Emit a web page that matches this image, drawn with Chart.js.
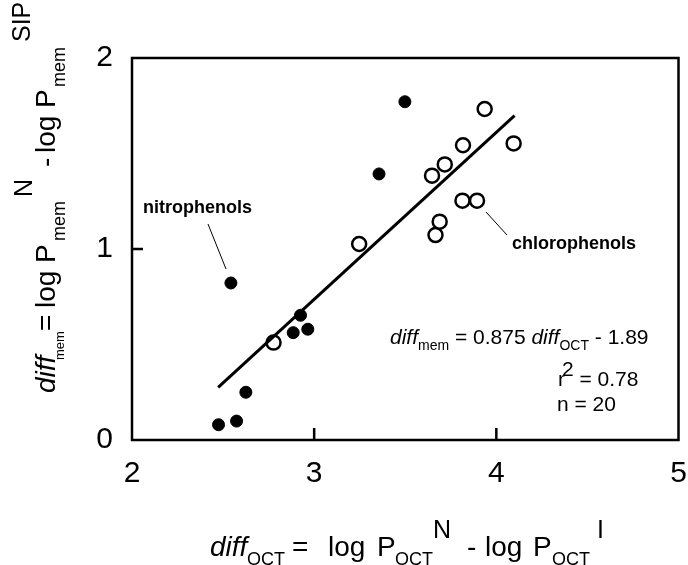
<!DOCTYPE html>
<html>
<head>
<meta charset="utf-8">
<script src="https://cdn.jsdelivr.net/npm/chart.js@4"></script>
<style>
  html, body { margin: 0; padding: 0; background: #fff; }
  #wrap { width: 688px; height: 565px; }
</style>
</head>
<body>
<div id="wrap"><canvas id="chart" width="688" height="565"></canvas></div>
<script>
// nitrophenols (filled)
const nitroX = [2.475, 2.543, 2.574, 2.625, 2.885, 2.925, 2.965, 3.356, 3.498];
const nitroY = [0.080, 0.822, 0.099, 0.250, 0.562, 0.653, 0.580, 1.393, 1.771];
// chlorophenols (open)
const chloroX = [2.777, 3.247, 3.647, 3.666, 3.689, 3.717, 3.814, 3.817, 3.894, 3.936, 4.095];
const chloroY = [0.510, 1.026, 1.384, 1.073, 1.143, 1.443, 1.253, 1.543, 1.253, 1.733, 1.553];
// regression line end points
const fitX = [2.473, 4.100];
const fitY = [0.276, 1.698];

const xTicks = [2, 3, 4, 5];
const yTicks = [0, 1, 2];
const xInnerTicks = [3, 4];
const yInnerTicks = [1];

const FONT = "Arial, 'Liberation Sans', sans-serif";

function toPoints(xs, ys) {
  return xs.map((x, i) => ({ x: x, y: ys[i] }));
}

// write a run of text pieces, each with its own font, offset and baseline shift
function drawRun(ctx, x, y, parts) {
  let cx = x;
  parts.forEach((p) => {
    if (p.at !== undefined) cx = x + p.at;
    ctx.font = p.f;
    ctx.fillText(p.t, cx, y + (p.dy || 0));
    cx += ctx.measureText(p.t).width + (p.gap || 0);
  });
}

// white ring under each marker, so the line looks cut around the dots
const halo = {
  id: "halo",
  beforeDatasetDraw(chart, args) {
    if (args.index === 0) return;
    const ctx = chart.ctx;
    ctx.save();
    ctx.fillStyle = "#fff";
    args.meta.data.forEach((pt) => {
      ctx.beginPath();
      ctx.arc(pt.x, pt.y, 10, 0, Math.PI * 2);
      ctx.fill();
    });
    ctx.restore();
  },
};

const frame = {
  id: "frame",
  afterDraw(chart) {
    const ctx = chart.ctx;
    const a = chart.chartArea;
    const xs = chart.scales.x;
    const ys = chart.scales.y;
    ctx.save();
    ctx.strokeStyle = "#000";
    ctx.lineWidth = 2.5;
    ctx.strokeRect(a.left, a.top, a.right - a.left, a.bottom - a.top);
    ctx.beginPath();
    xInnerTicks.forEach((v) => {
      const px = xs.getPixelForValue(v);
      ctx.moveTo(px, a.bottom);
      ctx.lineTo(px, a.bottom - 12);
    });
    yInnerTicks.forEach((v) => {
      const py = ys.getPixelForValue(v);
      ctx.moveTo(a.left, py);
      ctx.lineTo(a.left + 11, py);
    });
    ctx.stroke();

    // leader lines
    ctx.lineWidth = 1;
    ctx.beginPath();
    ctx.moveTo(208, 224);
    ctx.lineTo(226, 269);
    ctx.moveTo(486, 212);
    ctx.lineTo(507, 235);
    ctx.stroke();

    ctx.fillStyle = "#000";
    ctx.textAlign = "left";
    ctx.textBaseline = "alphabetic";

    ctx.font = "bold 18px " + FONT;
    ctx.fillText("nitrophenols", 143, 213);
    ctx.fillText("chlorophenols", 512, 249);

    const big = "21px " + FONT;
    const it = "italic 21px " + FONT;
    const sm = "14px " + FONT;
    drawRun(ctx, 390, 344, [
      { t: "diff", f: it },
      { t: "mem", f: sm, dy: 6 },
      { t: " = 0.875 ", f: big },
      { t: "diff", f: it },
      { t: "OCT", f: sm, dy: 6 },
      { t: " - 1.89", f: big },
    ]);
    drawRun(ctx, 558, 386, [
      { t: "r", f: big, gap: -3 },
      { t: "2", f: big, dy: -10 },
      { t: " = 0.78", f: big },
    ]);
    drawRun(ctx, 557, 411, [{ t: "n = 20", f: big }]);

    // x axis title
    const tMain = "28px " + FONT;
    const tIt = "italic 28px " + FONT;
    const tSub = "18px " + FONT;
    const tSub2 = "13px " + FONT;
    const tSup = "25px " + FONT;
    drawRun(ctx, 210, 556, [
      { t: "diff", f: tIt, at: 0 },
      { t: "OCT", f: tSub, dy: 9, at: 37 },
      { t: "=", f: tMain, at: 82 },
      { t: "log", f: tMain, at: 118 },
      { t: "P", f: tMain, at: 167 },
      { t: "OCT", f: tSub, dy: 9, at: 185 },
      { t: "N", f: tSup, dy: -18, at: 223 },
      { t: "-", f: tMain, at: 257 },
      { t: "log", f: tMain, at: 275 },
      { t: "P", f: tMain, at: 323 },
      { t: "OCT", f: tSub, dy: 9, at: 342 },
      { t: "I", f: tSup, dy: -18, at: 387 },
    ]);

    // y axis title, rotated
    ctx.translate(55, 393);
    ctx.rotate(-Math.PI / 2);
    drawRun(ctx, 0, 0, [
      { t: "diff", f: tIt, at: 0 },
      { t: "mem", f: tSub2, dy: 9, at: 33 },
      { t: "=", f: tMain, at: 62 },
      { t: "log", f: tMain, at: 85 },
      { t: "P", f: tMain, at: 130 },
      { t: "mem", f: tSub, dy: 10, at: 152 },
      { t: "N", f: tSup, dy: -23, at: 196 },
      { t: "-", f: tMain, at: 226 },
      { t: "log", f: tMain, at: 240 },
      { t: "P", f: tMain, at: 285 },
      { t: "mem", f: tSub, dy: 10, at: 306 },
      { t: "SIP", f: tSup, dy: -25, at: 351 },
    ]);
    ctx.restore();
  },
};

new Chart(document.getElementById("chart"), {
  type: "scatter",
  data: {
    datasets: [
      {
        type: "line",
        data: toPoints(fitX, fitY),
        borderColor: "#000",
        borderWidth: 3,
        pointRadius: 0,
        fill: false,
      },
      {
        data: toPoints(chloroX, chloroY),
        backgroundColor: "#fff",
        borderColor: "#000",
        borderWidth: 2.5,
        pointRadius: 7,
      },
      {
        data: toPoints(nitroX, nitroY),
        backgroundColor: "#000",
        borderColor: "#000",
        borderWidth: 1,
        pointRadius: 6,
      },
    ],
  },
  options: {
    responsive: false,
    animation: false,
    layout: { padding: { top: 58, right: 9, left: 0, bottom: 0 } },
    plugins: {
      legend: { display: false },
      tooltip: { enabled: false },
    },
    scales: {
      x: {
        type: "linear",
        min: 2,
        max: 5,
        afterBuildTicks: (s) => { s.ticks = xTicks.map((v) => ({ value: v })); },
        afterFit: (s) => { s.height = 125; s.paddingLeft = 0; s.paddingRight = 0; },
        ticks: { font: { size: 30, family: FONT }, color: "#000", padding: 16, maxRotation: 0 },
        grid: { display: false, drawTicks: false },
        border: { display: false },
      },
      y: {
        type: "linear",
        min: 0,
        max: 2,
        afterBuildTicks: (s) => { s.ticks = yTicks.map((v) => ({ value: v })); },
        afterFit: (s) => { s.width = 132; s.paddingTop = 0; s.paddingBottom = 0; },
        ticks: { font: { size: 30, family: FONT }, color: "#000", padding: 19 },
        grid: { display: false, drawTicks: false },
        border: { display: false },
      },
    },
  },
  plugins: [halo, frame],
});
</script>
</body>
</html>
